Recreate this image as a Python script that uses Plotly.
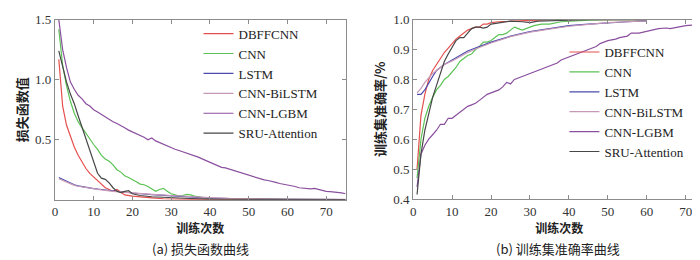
import plotly.graph_objects as go

# ---------------- data: loss (panel a) ----------------
loss_epochs = {
    "DBFFCNN": [1, 2, 3, 4, 5, 6, 7, 8, 9, 10, 11, 12, 13, 14, 15, 16, 17, 18, 20, 22, 25, 28, 30, 35, 40, 50, 60, 75],
    "CNN": [1, 2, 3, 4, 5, 6, 7, 8, 9, 10, 11, 12, 13, 14, 15, 16, 17, 18, 19, 20, 21, 22, 23, 24, 25, 26, 27, 28, 29, 30, 31, 32, 33, 34, 35, 36, 38, 40, 45, 50, 53, 60, 75],
    "LSTM": [1, 2, 3, 4, 5, 6, 7, 8, 10, 12, 15, 20, 25, 30, 35, 40, 45, 50, 60, 75],
    "CNN-BiLSTM": [1, 2, 3, 4, 5, 6, 7, 8, 10, 12, 15, 20, 25, 30, 35, 40, 45, 50, 60, 75],
    "CNN-LGBM": [1, 2, 3, 4, 5, 6, 7, 8, 9, 10, 11, 12, 13, 14, 15, 16, 17, 18, 19, 20, 21, 22, 23, 24, 25, 26, 27, 28, 29, 30, 31, 32, 33, 34, 35, 36, 37, 38, 39, 40, 41, 42, 43, 44, 45, 46, 47, 48, 49, 50, 51, 52, 53, 54, 55, 56, 57, 58, 59, 60, 61, 62, 63, 64, 65, 66, 67, 68, 69, 70, 71, 72, 73, 74, 75],
    "SRU-Attention": [1, 2, 3, 4, 5, 6, 7, 8, 9, 10, 11, 12, 13, 14, 15, 16, 17, 18, 19, 20, 22, 25, 30, 35, 40, 50, 60, 75],
}
loss_values = {
    "DBFFCNN": [1.17, 0.78, 0.62, 0.52, 0.44, 0.37, 0.31, 0.26, 0.22, 0.19, 0.155, 0.126, 0.10, 0.085, 0.07, 0.085, 0.06, 0.04, 0.03, 0.022, 0.015, 0.008, 0.005, 0.003, 0.002, 0.001, 0.001, 0.001],
    "CNN": [1.42, 1.12, 0.95, 0.82, 0.72, 0.65, 0.60, 0.55, 0.50, 0.46, 0.42, 0.37, 0.34, 0.32, 0.29, 0.25, 0.23, 0.20, 0.185, 0.17, 0.15, 0.13, 0.125, 0.11, 0.09, 0.07, 0.085, 0.095, 0.07, 0.05, 0.04, 0.03, 0.035, 0.045, 0.04, 0.03, 0.02, 0.012, 0.008, 0.006, 0.003, 0.002, 0.001],
    "LSTM": [0.185, 0.17, 0.15, 0.135, 0.125, 0.115, 0.108, 0.102, 0.092, 0.085, 0.072, 0.056, 0.042, 0.032, 0.022, 0.014, 0.01, 0.007, 0.004, 0.002],
    "CNN-BiLSTM": [0.175, 0.16, 0.145, 0.13, 0.12, 0.112, 0.106, 0.10, 0.09, 0.082, 0.07, 0.055, 0.045, 0.035, 0.025, 0.018, 0.012, 0.008, 0.005, 0.003],
    "CNN-LGBM": [1.50, 1.25, 1.10, 0.98, 0.92, 0.87, 0.84, 0.80, 0.78, 0.75, 0.73, 0.71, 0.69, 0.665, 0.65, 0.635, 0.62, 0.60, 0.58, 0.565, 0.555, 0.54, 0.52, 0.50, 0.515, 0.49, 0.475, 0.46, 0.445, 0.435, 0.42, 0.41, 0.40, 0.39, 0.38, 0.37, 0.355, 0.34, 0.325, 0.31, 0.30, 0.285, 0.27, 0.265, 0.255, 0.24, 0.23, 0.22, 0.21, 0.20, 0.19, 0.18, 0.17, 0.165, 0.16, 0.155, 0.145, 0.135, 0.13, 0.12, 0.115, 0.11, 0.10, 0.097, 0.093, 0.09, 0.095, 0.085, 0.078, 0.07, 0.067, 0.065, 0.06, 0.057, 0.05],
    "SRU-Attention": [1.24, 1.10, 0.98, 0.88, 0.80, 0.70, 0.60, 0.50, 0.40, 0.30, 0.22, 0.18, 0.17, 0.14, 0.10, 0.07, 0.06, 0.07, 0.075, 0.05, 0.035, 0.025, 0.015, 0.01, 0.005, 0.003, 0.002, 0.001],
}

# ---------------- data: accuracy (panel b) ----------------
acc_epochs = {
    "DBFFCNN": [1, 2, 3, 4, 5, 6, 7, 8, 9, 10, 11, 12, 13, 14, 15, 16, 17, 18, 19, 20, 22, 25, 30, 35, 40, 50, 60],
    "CNN": [1, 2, 3, 4, 5, 6, 7, 8, 9, 10, 11, 12, 13, 14, 15, 16, 17, 18, 19, 20, 21, 22, 23, 24, 25, 26, 27, 28, 29, 30, 31, 33, 35, 38, 40, 45, 50, 60],
    "LSTM": [1, 2, 3, 4, 5, 6, 8, 10, 12, 14, 16, 18, 20, 25, 30, 35, 40, 45, 50, 55, 60],
    "CNN-BiLSTM": [1, 2, 3, 4, 5, 6, 8, 10, 12, 14, 16, 18, 20, 25, 30, 35, 40, 45, 50, 55, 60],
    "CNN-LGBM": [1, 2, 3, 4, 5, 6, 7, 8, 9, 10, 11, 12, 13, 14, 15, 16, 17, 18, 19, 20, 21, 22, 23, 24, 25, 26, 27, 28, 29, 30, 32, 33, 35, 37, 38, 40, 42, 43, 45, 47, 48, 50, 52, 53, 55, 56, 58, 60, 62, 63, 65, 66, 68, 70, 72, 73, 75],
    "SRU-Attention": [1, 2, 3, 4, 5, 6, 7, 8, 9, 10, 11, 12, 13, 14, 15, 16, 17, 18, 19, 20, 22, 25, 28, 30, 32, 35, 40, 45, 60],
}
acc_values = {
    "DBFFCNN": [0.50, 0.68, 0.75, 0.80, 0.83, 0.85, 0.87, 0.89, 0.905, 0.92, 0.935, 0.945, 0.955, 0.965, 0.97, 0.975, 0.975, 0.985, 0.985, 0.99, 0.993, 0.995, 0.998, 1.0, 1.0, 1.0, 1.0],
    "CNN": [0.47, 0.60, 0.67, 0.71, 0.74, 0.765, 0.78, 0.80, 0.81, 0.825, 0.84, 0.86, 0.87, 0.88, 0.885, 0.90, 0.91, 0.925, 0.925, 0.93, 0.94, 0.95, 0.95, 0.955, 0.965, 0.975, 0.97, 0.965, 0.97, 0.975, 0.98, 0.985, 0.985, 0.993, 0.995, 0.998, 1.0, 1.0],
    "LSTM": [0.75, 0.75, 0.765, 0.79, 0.81, 0.83, 0.85, 0.865, 0.88, 0.895, 0.905, 0.915, 0.925, 0.945, 0.96, 0.97, 0.98, 0.985, 0.99, 0.993, 0.996],
    "CNN-BiLSTM": [0.755, 0.77, 0.79, 0.805, 0.82, 0.83, 0.85, 0.862, 0.877, 0.89, 0.902, 0.912, 0.922, 0.943, 0.958, 0.968, 0.978, 0.984, 0.99, 0.993, 0.996],
    "CNN-LGBM": [0.44, 0.55, 0.58, 0.60, 0.615, 0.63, 0.65, 0.65, 0.67, 0.67, 0.68, 0.69, 0.70, 0.71, 0.715, 0.72, 0.73, 0.74, 0.75, 0.755, 0.76, 0.765, 0.775, 0.79, 0.785, 0.80, 0.805, 0.81, 0.815, 0.82, 0.83, 0.835, 0.845, 0.855, 0.865, 0.875, 0.885, 0.89, 0.90, 0.91, 0.92, 0.93, 0.935, 0.94, 0.945, 0.955, 0.955, 0.96, 0.965, 0.97, 0.972, 0.97, 0.975, 0.98, 0.982, 0.983, 0.986],
    "SRU-Attention": [0.415, 0.55, 0.63, 0.69, 0.74, 0.78, 0.82, 0.86, 0.885, 0.91, 0.93, 0.94, 0.94, 0.955, 0.97, 0.975, 0.975, 0.972, 0.975, 0.985, 0.99, 0.995, 0.993, 0.99, 0.995, 0.997, 0.998, 1.0, 1.0],
}

series_names = ["DBFFCNN", "CNN", "LSTM", "CNN-BiLSTM", "CNN-LGBM", "SRU-Attention"]
colors = {
    "DBFFCNN": "#e5504e",
    "CNN": "#5cc255",
    "LSTM": "#4b4bac",
    "CNN-BiLSTM": "#c899b6",
    "CNN-LGBM": "#8a4f9e",
    "SRU-Attention": "#474747",
}

x_ticks = [0, 10, 20, 30, 40, 50, 60, 70]
loss_ticks = [0.5, 1.0, 1.5]
loss_tick_text = ["0.5", "1.0", "1.5"]
acc_ticks = [0.4, 0.5, 0.6, 0.7, 0.8, 0.9, 1.0]
acc_tick_text = ["0.4", "0.5", "0.6", "0.7", "0.8", "0.9", "1.0"]

SERIF = "Liberation Serif"
CJK = "Noto Sans CJK SC"

fig = go.Figure()
for name in series_names:
    fig.add_trace(go.Scatter(x=loss_epochs[name], y=loss_values[name], mode="lines", name=name,
                             line=dict(color=colors[name], width=1.2), xaxis="x", yaxis="y",
                             legend="legend"))
for name in series_names:
    fig.add_trace(go.Scatter(x=acc_epochs[name], y=acc_values[name], mode="lines", name=name,
                             line=dict(color=colors[name], width=1.2), xaxis="x2", yaxis="y2",
                             legend="legend2"))

axis_common = dict(showline=True, linecolor="#8c8c8c", linewidth=1, mirror="ticks",
                   ticks="inside", ticklen=4, tickcolor="#8c8c8c", showgrid=False, zeroline=False,
                   ticklabeloverflow="allow",
                   tickfont=dict(family=SERIF, size=13, color="#333333"))

fig.update_layout(
    width=700, height=260,
    margin=dict(l=0, r=0, t=0, b=0),
    paper_bgcolor="white", plot_bgcolor="white",
    font=dict(family=SERIF, color="#222"),
    showlegend=True,
    xaxis=dict(domain=[0.063, 0.48], range=[0, 75], tickvals=x_ticks, anchor="y",
               title=dict(text="<b>训练次数</b>", font=dict(family=CJK, size=12, color="#222"), standoff=6),
               **axis_common),
    yaxis=dict(domain=[0.246, 0.981], range=[0, 1.5], tickvals=loss_ticks, ticktext=loss_tick_text,
               anchor="x",
               title=dict(text="<b>损失函数值</b>", font=dict(family=CJK, size=13, color="#222"), standoff=4),
               **axis_common),
    xaxis2=dict(domain=[0.577, 0.996], range=[0, 75], tickvals=x_ticks, anchor="y2",
                title=dict(text="<b>训练次数</b>", font=dict(family=CJK, size=12, color="#222"), standoff=6),
                **axis_common),
    yaxis2=dict(domain=[0.249, 0.981], range=[0.4, 1.0], tickvals=acc_ticks, ticktext=acc_tick_text,
                anchor="x2",
                title=dict(text="<b>训练集准确率/%</b>", font=dict(family=CJK, size=13, color="#222"), standoff=4),
                **axis_common),
    legend=dict(x=0.269, y=0.985, xanchor="left", yanchor="top", bgcolor="rgba(0,0,0,0)",
                font=dict(family=SERIF, size=13, color="#222"), tracegroupgap=0),
    legend2=dict(x=0.794, y=0.91, xanchor="left", yanchor="top", bgcolor="rgba(0,0,0,0)",
                 font=dict(family=SERIF, size=13, color="#222"), tracegroupgap=0),
    annotations=[
        dict(text="(a) 损失函数曲线", x=0.272, y=0.0, xref="paper", yref="paper", showarrow=False,
             xanchor="center", yanchor="bottom", font=dict(family=CJK, size=13, color="#222")),
        dict(text="(b) 训练集准确率曲线", x=0.785, y=0.0, xref="paper", yref="paper", showarrow=False,
             xanchor="center", yanchor="bottom", font=dict(family=CJK, size=13, color="#222")),
    ],
)

fig.write_html("out.html")
